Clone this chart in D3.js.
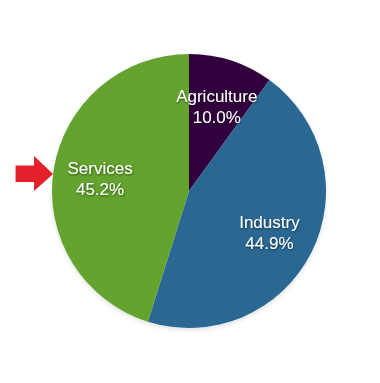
<!DOCTYPE html>
<html>
<head>
<meta charset="utf-8">
<script src="https://cdn.jsdelivr.net/npm/d3@7"></script>
<style>
  html, body { margin: 0; padding: 0; background: #fff; }
  svg { display: block; }
  .lbl { font-family: "Liberation Sans", Arial, sans-serif; font-size: 17px; fill: #fff; }
</style>
</head>
<body>
<svg id="chart" width="380" height="383"></svg>
<script>
const categories = ['Agriculture', 'Industry', 'Services'];
const shares = [10.0, 44.9, 45.2];
const colors = ['#33003d', '#2a6893', '#64a32f'];

const WIDTH = 380, HEIGHT = 383;
const CX = 189, CY = 191, R = 137, LABEL_R = 90;

const data = categories.map((c, i) => ({name: c, value: shares[i], color: colors[i]}));

const svg = d3.select('#chart');

// soft shadows
const defs = svg.append('defs');
defs.append('filter').attr('id', 'txtShadow')
    .append('feDropShadow')
    .attr('dx', 0.6).attr('dy', 1).attr('stdDeviation', 0.8)
    .attr('flood-color', '#000').attr('flood-opacity', 0.55);
defs.append('filter').attr('id', 'pieShadow')
    .attr('x', '-10%').attr('y', '-10%').attr('width', '120%').attr('height', '125%')
    .append('feDropShadow')
    .attr('dx', 0).attr('dy', 2).attr('stdDeviation', 2)
    .attr('flood-color', '#000').attr('flood-opacity', 0.12);

const pie = d3.pie().sort(null).value(d => d.value);
const arcs = pie(data);

const arc = d3.arc().innerRadius(0).outerRadius(R);
const labelArc = d3.arc().innerRadius(LABEL_R).outerRadius(LABEL_R);

const g = svg.append('g').attr('transform', `translate(${CX},${CY})`);

g.append('g').attr('filter', 'url(#pieShadow)')
    .selectAll('path')
    .data(arcs)
    .join('path')
    .attr('d', arc)
    .attr('fill', d => d.data.color);

const labels = g.selectAll('text.lbl')
    .data(arcs)
    .join('text')
    .attr('class', 'lbl')
    .attr('filter', 'url(#txtShadow)')
    .attr('text-anchor', 'middle')
    .attr('transform', d => `translate(${labelArc.centroid(d)})`);

labels.append('tspan').attr('x', 0).attr('dy', '-0.2em').text(d => d.data.name);
labels.append('tspan').attr('x', 0).attr('dy', '1.25em').text(d => d.data.value.toFixed(1) + '%');

// red arrow pointing at the Services slice
const services = arcs[2];
const ang = (services.startAngle + services.endAngle) / 2 - 0.027;
const tipX = CX + R * Math.sin(ang);
const tipY = CY - R * Math.cos(ang);
const arrow = d3.path();
arrow.moveTo(tipX, tipY);
arrow.lineTo(tipX - 19, tipY - 18);
arrow.lineTo(tipX - 19, tipY - 8.5);
arrow.lineTo(tipX - 37.5, tipY - 8.5);
arrow.lineTo(tipX - 37.5, tipY + 8);
arrow.lineTo(tipX - 19, tipY + 8);
arrow.lineTo(tipX - 19, tipY + 17);
arrow.closePath();
svg.append('path').attr('d', arrow.toString()).attr('fill', '#e3202a');
</script>
</body>
</html>
